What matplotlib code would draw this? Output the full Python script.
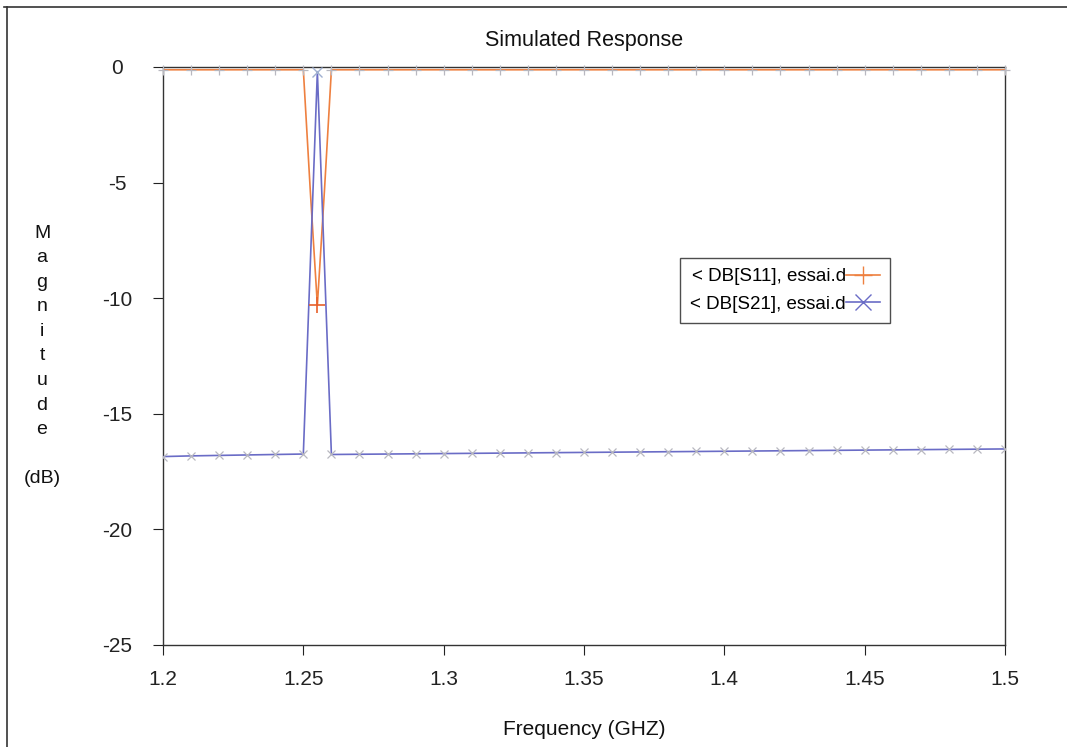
import matplotlib
matplotlib.use("Agg")
import matplotlib.pyplot as plt
from matplotlib.lines import Line2D

plt.rcParams['font.family'] = ['Liberation Sans', 'DejaVu Sans']

# ---- data ----
freq_s11 = [1.20, 1.21, 1.22, 1.23, 1.24, 1.25, 1.2525, 1.255, 1.2575, 1.26,
            1.27, 1.28, 1.29, 1.30, 1.31, 1.32, 1.33, 1.34, 1.35, 1.36,
            1.37, 1.38, 1.39, 1.40, 1.41, 1.42, 1.43, 1.44, 1.45, 1.46,
            1.47, 1.48, 1.49, 1.50]
s11_db = [-0.12, -0.12, -0.12, -0.12, -0.12, -0.12, -5.4, -10.3, -5.4, -0.12,
          -0.12, -0.12, -0.12, -0.12, -0.12, -0.12, -0.12, -0.12, -0.12, -0.12,
          -0.12, -0.12, -0.12, -0.12, -0.12, -0.12, -0.12, -0.12, -0.12, -0.12,
          -0.12, -0.12, -0.12, -0.12]

freq_s21 = [1.20, 1.21, 1.22, 1.23, 1.24, 1.25, 1.255, 1.26,
            1.27, 1.28, 1.29, 1.30, 1.31, 1.32, 1.33, 1.34, 1.35, 1.36,
            1.37, 1.38, 1.39, 1.40, 1.41, 1.42, 1.43, 1.44, 1.45, 1.46,
            1.47, 1.48, 1.49, 1.50]
s21_db = [-16.85, -16.82, -16.80, -16.78, -16.76, -16.74, -0.2, -16.76,
          -16.75, -16.74, -16.73, -16.72, -16.71, -16.70, -16.69, -16.68, -16.67, -16.66,
          -16.65, -16.64, -16.63, -16.62, -16.61, -16.60, -16.59, -16.58, -16.57, -16.56,
          -16.55, -16.54, -16.53, -16.52]

xticks = [1.2, 1.25, 1.3, 1.35, 1.4, 1.45, 1.5]
yticks = [0, -5, -10, -15, -20, -25]
legend_labels = ["< DB[S11], essai.d", "< DB[S21], essai.d"]

c11 = "#ee8040"
c21 = "#6a6cc6"
mgray = "#b8b8c0"

fig = plt.figure(figsize=(10.67, 7.47), dpi=100)
ax = fig.add_axes([163/1067, 1-645/747, (1005-163)/1067, (645-67)/747])

ax.plot(freq_s11, s11_db, color=c11, lw=1.2, zorder=3)
ax.plot(freq_s21, s21_db, color=c21, lw=1.2, zorder=3)

# markers: gray on the regular 10 MHz grid, coloured at the resonance
pk11 = s11_db.index(min(s11_db))
pk21 = s21_db.index(max(s21_db))
i11 = [i for i in range(len(freq_s11))
       if abs(round(freq_s11[i] * 100) - freq_s11[i] * 100) < 1e-6]
i21 = [i for i in range(len(freq_s21))
       if abs(round(freq_s21[i] * 100) - freq_s21[i] * 100) < 1e-6]
ax.plot([freq_s11[i] for i in i11], [s11_db[i] for i in i11], ls='none',
        marker='+', ms=7, mew=0.9, color=mgray, zorder=4, clip_on=False)
ax.plot([freq_s21[i] for i in i21], [s21_db[i] for i in i21], ls='none',
        marker='x', ms=6, mew=0.9, color=mgray, zorder=4)
ax.plot([freq_s11[pk11]], [s11_db[pk11]], ls='none', marker='+', ms=12,
        mew=1.2, color="#e8602a", zorder=5)
ax.plot([freq_s21[pk21]], [s21_db[pk21]], ls='none', marker='x', ms=7,
        mew=1.0, color="#a0b0d0", zorder=5)

ax.set_xlim(1.2, 1.5)
ax.set_ylim(-25, 0)
ax.set_xticks(xticks)
ax.set_xticklabels([str(t) for t in xticks])
ax.set_yticks(yticks)
ax.set_yticklabels([str(t) for t in yticks])
ax.tick_params(axis='both', direction='out', length=7, width=0.8,
               labelsize=15, colors='#222222')
ax.tick_params(axis='y', pad=26)
ax.tick_params(axis='x', pad=11)
for lab in ax.get_yticklabels():
    lab.set_horizontalalignment('center')
for s in ax.spines.values():
    s.set_color('#333333')
    s.set_linewidth(1.0)

ax.set_title("Simulated Response", fontsize=15.5, pad=15, color='#111111')
ax.set_xlabel("Frequency (GHZ)", fontsize=15, labelpad=22, color='#111111')

fig.text(42/1067, 1-356/747, "M\na\ng\nn\ni\nt\nu\nd\ne\n\n(dB)", ha='center',
         va='center', fontsize=14, linespacing=1.58, color='#111111')

handles = [Line2D([], [], color=c11, lw=1.2, marker='+', ms=13, mew=1.0),
           Line2D([], [], color=c21, lw=1.2, marker='x', ms=11, mew=1.0)]
leg = ax.legend(handles, legend_labels, loc='upper left',
                bbox_to_anchor=(0.614, 0.67), markerfirst=False,
                fontsize=13.5, frameon=True, fancybox=False, handlelength=1.8,
                handletextpad=0.0, borderpad=0.55, labelspacing=0.55,
                borderaxespad=0)
leg.get_frame().set_edgecolor('#222222')
leg.get_frame().set_linewidth(1.0)

# outer figure frame (top and left)
fig.add_artist(Line2D([4/1067, 1.0], [1-7/747, 1-7/747], color='#333333', lw=1.2))
fig.add_artist(Line2D([7/1067, 7/1067], [0, 1-7/747], color='#333333', lw=1.2))

fig.savefig("out.png", dpi=100)
